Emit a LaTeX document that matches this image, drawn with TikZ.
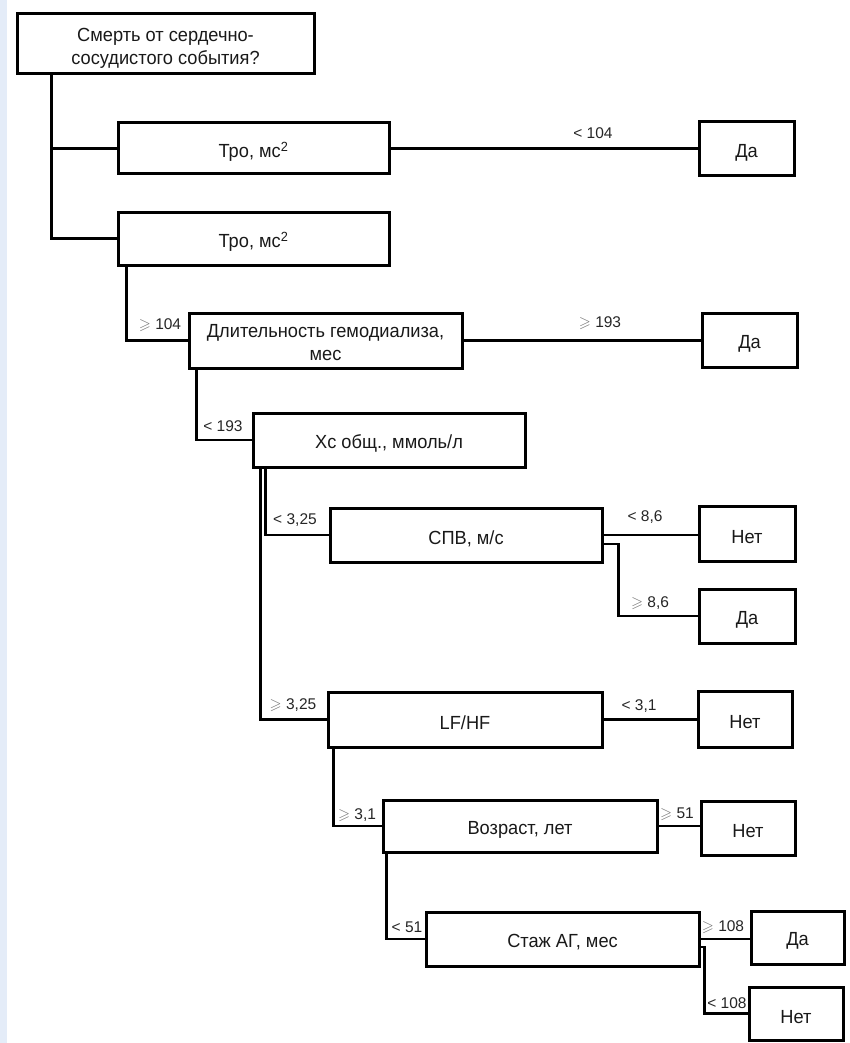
\documentclass[tikz,border=0pt]{standalone}
\usepackage{amssymb}
\usepackage{fontspec}
\setmainfont{Liberation Sans}
\newfontfamily\bxf[FakeStretch=0.96]{Liberation Sans}
\definecolor{stripc}{HTML}{E4ECF8}
\newcommand{\gsl}{\textcolor{black!55}{$\geqslant$}}
\newcommand{\bxfont}{\bxf\fontsize{19}{23}\selectfont}
\newcommand{\lbfont}{\fontsize{15.5}{18}\selectfont}
\newcommand{\dn}[1]{\raisebox{-3.5pt}[\height][\depth]{#1}}
\newcommand{\twol}[2]{\raisebox{-4pt}[\height][\depth]{\begin{tabular}{@{}c@{}}#1\\#2\end{tabular}}}
\tikzset{
  tbox/.style={draw, line width=3pt, inner sep=0pt, align=center, font=\bxfont, text=black!90},
  lbl/.style={inner sep=0pt, font=\lbfont, text=black!85},
  conn/.style={line width=2.8pt}
}
\begin{document}
\begin{tikzpicture}[x=1pt,y=-1pt]
\useasboundingbox (0,0) rectangle (849,1043);
\fill[stripc] (0,0) rectangle (7,1043);
% boxes
\node[tbox, minimum width=297pt, minimum height=60pt] (root) at (165.5,44) {\twol{Смерть от сердечно-}{сосудистого события?}};
\node[tbox, minimum width=271pt, minimum height=51pt] (tro1) at (253.5,148.5) {\dn{Тро, мс\textsuperscript{2}}};
\node[tbox, minimum width=271pt, minimum height=53pt] (tro2) at (253.5,238.5) {\dn{Тро, мс\textsuperscript{2}}};
\node[tbox, minimum width=95pt, minimum height=54pt] (da1) at (746.5,149) {\dn{Да}};
\node[tbox, minimum width=273pt, minimum height=55pt] (dlit) at (325.5,340.5) {\twol{Длительность гемодиализа,}{мес}};
\node[tbox, minimum width=95pt, minimum height=54pt] (da2) at (749.5,340) {\dn{Да}};
\node[tbox, minimum width=272pt, minimum height=54pt] (xc) at (389,440) {\dn{Хс общ., ммоль/л}};
\node[tbox, minimum width=272pt, minimum height=54pt] (spv) at (466,535) {\dn{СПВ, м/с}};
\node[tbox, minimum width=96pt, minimum height=55pt] (net1) at (747,533.5) {\dn{Нет}};
\node[tbox, minimum width=96pt, minimum height=54pt] (da3) at (747,616) {\dn{Да}};
\node[tbox, minimum width=274pt, minimum height=55pt] (lfhf) at (465,719.5) {\dn{LF/HF}};
\node[tbox, minimum width=94pt, minimum height=56pt] (net2) at (745,719) {\dn{Нет}};
\node[tbox, minimum width=274pt, minimum height=52pt] (vozr) at (520,826) {\dn{Возраст, лет}};
\node[tbox, minimum width=94pt, minimum height=54pt] (net3) at (748,828) {\dn{Нет}};
\node[tbox, minimum width=273pt, minimum height=54pt] (stazh) at (562.5,939) {\dn{Стаж АГ, мес}};
\node[tbox, minimum width=93pt, minimum height=53pt] (da4) at (797.5,937.5) {\dn{Да}};
\node[tbox, minimum width=94pt, minimum height=53pt] (net4) at (796,1013.5) {\dn{Нет}};
% connectors
\draw[conn] ([xshift=36pt]root.south west) |- (tro1.west);
\draw[conn] ([xshift=36pt]root.south west) |- (tro2.west);
\draw[conn] (tro1.east) -- (tro1.east -| da1.west);
\draw[conn] ([xshift=10pt]tro2.south west) |- (dlit.west);
\draw[conn] (dlit.east) -- (dlit.east -| da2.west);
\draw[conn] ([xshift=9pt]dlit.south west) |- (xc.west);
\draw[conn] ([xshift=14pt]xc.south west) |- (spv.west);
\draw[conn] ([xshift=9pt]xc.south west) |- (lfhf.west);
\draw[conn] (spv.east) -- (spv.east -| net1.west);
\coordinate (spvb) at ([yshift=-9pt]spv.east);
\draw[conn] (spvb) -- ++(15,0) |- (da3.west);
\draw[conn] (lfhf.east) -- (lfhf.east -| net2.west);
\draw[conn] ([xshift=7pt]lfhf.south west) |- (vozr.west);
\draw[conn] (vozr.east) -- (vozr.east -| net3.west);
\draw[conn] ([xshift=5pt]vozr.south west) |- (stazh.west);
\draw[conn] (stazh.east) -- (stazh.east -| da4.west);
\coordinate (stb) at ([yshift=-8pt]stazh.east);
\draw[conn] (stb) -- ++(4,0) |- (net4.west);
% labels
\node[lbl] (l1) at (593,133) {< 104};
\node[lbl] (l2) at (160,325) {\gsl\ 104};
\node[lbl] (l3) at (600,323) {\gsl\ 193};
\node[lbl] (l4) at (223,426) {< 193};
\node[lbl] (l5) at (295,520) {< 3,25};
\node[lbl] (l6) at (293,705) {\gsl\ 3,25};
\node[lbl] (l7) at (645,517) {< 8,6};
\node[lbl] (l8) at (650,603) {\gsl\ 8,6};
\node[lbl] (l9) at (639,706) {< 3,1};
\node[lbl] (l10) at (357,815) {\gsl\ 3,1};
\node[lbl] (l11) at (677,814) {\gsl\ 51};
\node[lbl] (l12) at (407,927) {< 51};
\node[lbl] (l13) at (723,927) {\gsl\ 108};
\node[lbl] (l14) at (727,1003) {< 108};
\end{tikzpicture}
\end{document}
